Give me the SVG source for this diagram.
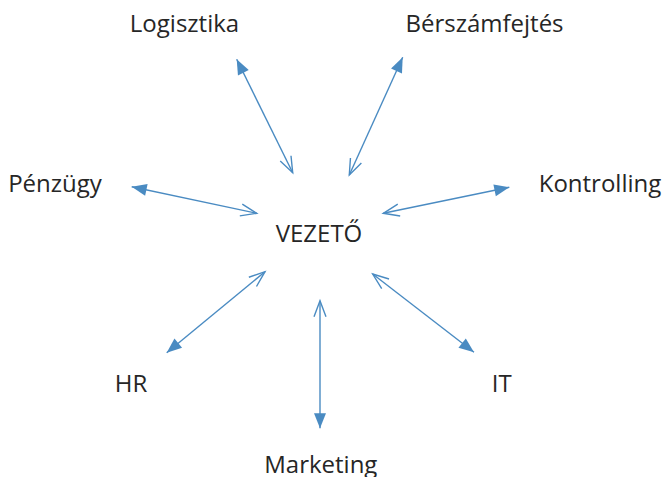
<svg xmlns="http://www.w3.org/2000/svg" width="664" height="477" viewBox="0 0 664 477">
<style>
text{font-family:"Open Sans","Noto Sans","Liberation Sans",sans-serif;font-size:24px;fill:#262626;text-anchor:middle}
.c line{stroke:#4a8bc2;stroke-width:1.4;marker-start:url(#open);marker-end:url(#fill)}
</style>
<defs>
<marker id="fill" markerUnits="userSpaceOnUse" markerWidth="16" markerHeight="12" refX="15" refY="6" orient="auto" overflow="visible">
<path d="M0,0 L15,6 L0,12 Z" fill="#4a8bc2"/>
</marker>
<marker id="open" markerUnits="userSpaceOnUse" markerWidth="17" markerHeight="12" refX="16" refY="6" orient="auto-start-reverse" overflow="visible">
<path d="M0,0 L16,6 L0,12" fill="none" stroke="#4a8bc2" stroke-width="1.4"/>
</marker>
</defs>
<rect width="664" height="477" fill="#fff"/>
<g id="connectors" class="c">
<line x1="292.7" y1="172.7" x2="236.7" y2="59.3"/>
<line x1="349.3" y1="175" x2="402.7" y2="57.3"/>
<line x1="256.7" y1="213.3" x2="131.7" y2="186.7"/>
<line x1="383.3" y1="213.3" x2="509.3" y2="187.3"/>
<line x1="265" y1="271.7" x2="166.7" y2="352.7"/>
<line x1="320" y1="300.7" x2="320" y2="428.3"/>
<line x1="372.7" y1="274" x2="474" y2="352.3"/>
</g>
<g id="vezeto"><text x="319" y="242">VEZETŐ</text></g>
<g id="logisztika"><text x="184.5" y="32">Logisztika</text></g>
<g id="berszamfejtes"><text x="484.5" y="32">Bérszámfejtés</text></g>
<g id="penzugy"><text x="55" y="192">Pénzügy</text></g>
<g id="kontrolling"><text x="600" y="192">Kontrolling</text></g>
<g id="hr"><text x="131" y="391.5">HR</text></g>
<g id="it"><text x="501.7" y="391.5">IT</text></g>
<g id="marketing"><text x="320.8" y="473">Marketing</text></g>
</svg>
